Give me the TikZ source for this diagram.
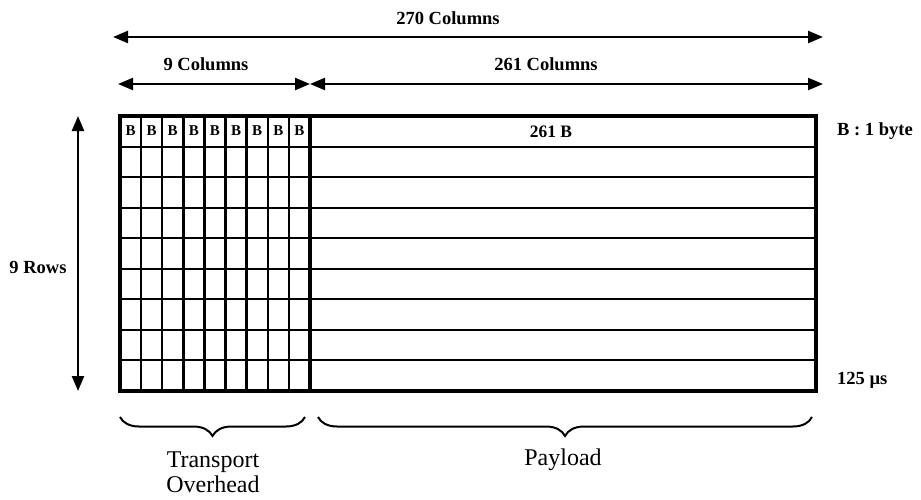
\documentclass[tikz,border=0pt]{standalone}
\usepackage{fontspec}
\setmainfont{Liberation Serif}
\usetikzlibrary{arrows.meta,decorations.pathreplacing}
\begin{document}
\begin{tikzpicture}[x=1pt,y=1pt,
  dim/.style={line width=2.4pt,{Triangle[length=15pt,width=12pt]}-{Triangle[length=15pt,width=12pt]}},
  lbl/.style={font=\bfseries\fontsize{18.5}{20}\selectfont,inner sep=0pt},
  cellb/.style={font=\bfseries\fontsize{15}{17}\selectfont,inner sep=0pt},
  thinl/.style={line width=2pt},
  thick4/.style={line width=4pt},
  brc/.style={line width=2pt,decorate,decoration={brace,mirror,amplitude=19pt}},
  big/.style={font=\fontsize{24}{25}\selectfont,inner sep=0pt,align=center}]
\useasboundingbox (0,0) rectangle (921,-499);
% grid horizontal lines
\foreach \k in {1,...,8}{
  \draw[thinl] (120,{-116-30.56*\k}) -- (816,{-116-30.56*\k});
}
% overhead vertical lines
\foreach \k in {1,...,8}{
  \draw[line width=2.4pt] ({120+21.1*\k},-116) -- ({120+21.1*\k},-391);
}
% separator and border
\draw[thick4] (310,-116) -- (310,-391);
\draw[thick4] (120,-116) rectangle (816,-391);
% B cells
\foreach \k in {1,...,9}{
  \node[cellb] (b\k) at ({120+21.1*\k-10.55},-131) {B};
}
\node[cellb,font=\bfseries\fontsize{17.5}{19}\selectfont] (pay) at (551,-132) {261 B};
% dimension arrows
\coordinate (t1) at (113,-37);
\coordinate (t2) at (823,-37);
\draw[dim] (t1) -- (t2);
\node[lbl] (c270) at (448,-18) {270 Columns};
\coordinate (m1) at (118,-84);
\coordinate (m2) at (310,-84);
\coordinate (m3) at (823,-84);
\draw[dim] (m1) -- (m2);
\draw[dim] (m2) -- (m3);
\node[lbl] (c9) at (206,-64) {9 Columns};
\node[lbl] (c261) at (546,-64) {261 Columns};
\coordinate (v1) at (78,-116);
\coordinate (v2) at (78,-391);
\draw[dim] (v1) -- (v2);
\node[lbl] (rows) at (38,-267) {9 Rows};
% right labels
\node[lbl,anchor=west] (byte) at (837,-131) {B : 1 byte};
\node[lbl,anchor=west] (us) at (837,-380) {125 µs};
% braces
\coordinate (l1) at (120,-417);
\coordinate (l2) at (305,-417);
\coordinate (r1) at (318,-417);
\coordinate (r2) at (812,-417);
\draw[brc] (l1) -- (l2);
\draw[brc] (r1) -- (r2);
\node[big] (tr) at (213,-472) {Transport\\Overhead};
\node[big] (pl) at (563,-460) {Payload};
\end{tikzpicture}
\end{document}
